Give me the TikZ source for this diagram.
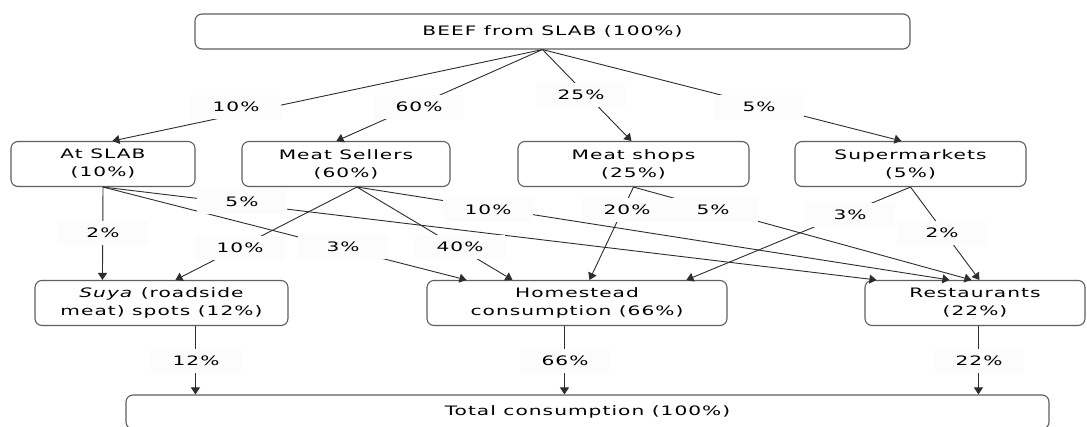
\documentclass[tikz,border=0pt]{standalone}
\usepackage{fontspec}
\setmainfont{DejaVu Sans}[FakeStretch=1.55,LetterSpace=8]
\usetikzlibrary{arrows.meta,calc}
\definecolor{labbg}{RGB}{252,252,252}
\definecolor{edge}{RGB}{45,45,45}
\definecolor{boxline}{RGB}{95,95,95}
\begin{document}
\begin{tikzpicture}[x=1pt,y=-1pt,
  box/.style={draw=boxline, line width=1.1pt, rounded corners=7pt, fill=white,
    align=center, inner sep=0pt, font=\fontsize{13}{18}\selectfont},
  lab/.style={fill=labbg, minimum width=90pt, minimum height=24pt, inner sep=0pt,
    font=\fontsize{13}{18}\selectfont},
  conn/.style={draw=edge, line width=0.9pt, -{Triangle[length=7pt,width=9pt]}},
]
\useasboundingbox[fill=white] (0,0) rectangle (1087,426);

% boxes
\node[box, minimum width=715pt, minimum height=35pt] (top) at (552.5,31.5) {BEEF from SLAB (100\%)};
\node[box, minimum width=184pt, minimum height=45pt] (slab) at (103,164) {At SLAB\\(10\%)};
\node[box, minimum width=208pt, minimum height=45pt] (sellers) at (346,164) {Meat Sellers\\(60\%)};
\node[box, minimum width=231pt, minimum height=45pt] (shops) at (633.5,164) {Meat shops\\(25\%)};
\node[box, minimum width=231pt, minimum height=45pt] (super) at (910.5,164) {Supermarkets\\(5\%)};
\node[box, minimum width=253pt, minimum height=45pt] (suya) at (161.5,303) {\textit{Suya} (roadside\\meat) spots (12\%)};
\node[box, minimum width=300pt, minimum height=45pt] (home) at (577,303) {Homestead\\consumption (66\%)};
\node[box, minimum width=220pt, minimum height=45pt] (rest) at (975,303) {Restaurants\\(22\%)};
\node[box, minimum width=923pt, minimum height=34pt] (total) at (587.5,412) {Total consumption (100\%)};

% sources
\coordinate (src) at ($(top.south)+(-10,0)$);
\coordinate (sl) at (slab.south);
\coordinate (se) at ($(sellers.south)+(11,0)$);
\coordinate (sh) at (shops.south);
\coordinate (su) at (super.south);

% top level
\draw[conn] (src) -- ($(slab.north west)+(102,0)$);
\draw[conn] (src) -- ($(sellers.north west)+(95,0)$);
\draw[conn] (src) -- ($(shops.north west)+(114,0)$);
\draw[conn] (src) -- ($(super.north west)+(107,0)$);

% middle level
\draw[conn] (sl) -- ($(suya.north west)+(68,0)$);
\draw[conn] (sl) -- ($(home.north west)+(40,0)$);
\draw[conn] (sl) -- ($(rest.north west)+(12,0)$);
\draw[conn] (se) -- ($(suya.north west)+(141,0)$);
\draw[conn] (se) -- ($(home.north west)+(86,0)$);
\draw[conn] (se) -- ($(rest.north west)+(85,0)$);
\draw[conn] (sh) -- ($(home.north west)+(163,0)$);
\draw[conn] (sh) -- ($(rest.north west)+(107,0)$);
\draw[conn] (su) -- ($(home.north west)+(260,0)$);
\draw[conn] (su) -- ($(rest.north west)+(115,0)$);

% bottom level
\coordinate (b1) at ($(suya.south west)+(161,0)$);
\coordinate (b2) at ($(home.south west)+(138,0)$);
\coordinate (b3) at ($(rest.south west)+(114,0)$);
\draw[conn] (b1) -- (b1 |- total.north);
\draw[conn] (b2) -- (b2 |- total.north);
\draw[conn] (b3) -- (b3 |- total.north);

% labels
\node[lab] (l10a) at (236,107) {10\%};
\node[lab] (l60) at (419,107) {60\%};
\node[lab] (l25) at (581,95) {25\%};
\node[lab] (l5a) at (759,107) {5\%};
\node[lab] (l5b) at (242,202) {5\%};
\node[lab] (l2a) at (103,233) {2\%};
\node[lab] (l10b) at (240,248) {10\%};
\node[lab] (l3a) at (343,247) {3\%};
\node[lab] (l40) at (460,247) {40\%};
\node[lab] (l10c) at (488,210) {10\%};
\node[lab] (l20) at (627,210) {20\%};
\node[lab] (l5c) at (713,210) {5\%};
\node[lab] (l3b) at (850,215) {3\%};
\node[lab] (l2b) at (942,233) {2\%};
\node[lab] (l12) at (196,361) {12\%};
\node[lab] (l66) at (565,361) {66\%};
\node[lab] (l22) at (979,361) {22\%};
\end{tikzpicture}
\end{document}
